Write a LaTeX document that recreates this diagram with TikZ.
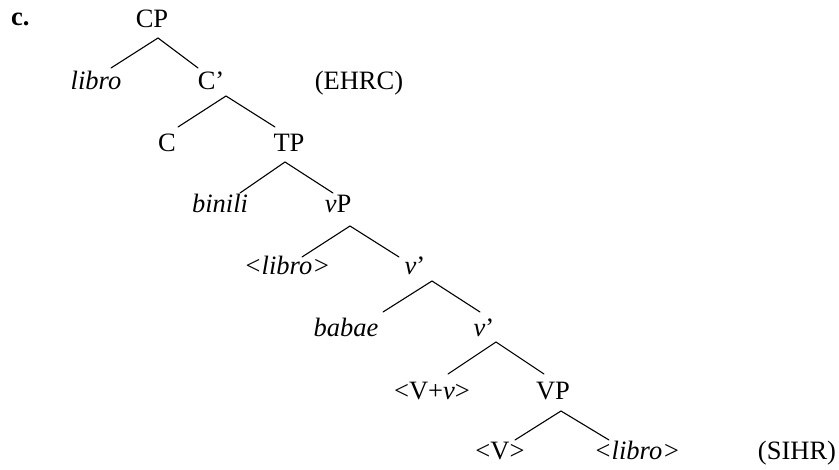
\documentclass[tikz,border=0pt]{standalone}
\usepackage{fontspec}
\setmainfont{Liberation Serif}
\begin{document}
\begin{tikzpicture}[x=1pt,y=-1pt,
  lab/.style={anchor=base,inner sep=0pt,font=\fontsize{26.5}{30}\selectfont},
  branch/.style={line width=1.1pt,line cap=round}]
\useasboundingbox (0,0) rectangle (839,470);
% labels
\node[lab,anchor=base west,font=\fontsize{26.5}{30}\selectfont\bfseries] (ex) at (11,26) {c.};
\node[lab] (CP) at (152,28) {CP};
\node[lab] (libro) at (96,90) {\textit{libro}};
\node[lab] (Cbar) at (211,90) {C’};
\node[lab] (ehrc) at (359,90) {(EHRC)};
\node[lab] (C) at (167,152) {C};
\node[lab] (TP) at (289,152) {TP};
\node[lab] (binili) at (220,213) {\textit{binili}};
\node[lab] (vP) at (338,213) {\textit{v}P};
\node[lab] (tlibro) at (287,275) {\textit{<libro>}};
\node[lab] (vbar1) at (415,275) {\textit{v}’};
\node[lab] (babae) at (346,337) {\textit{babae}};
\node[lab] (vbar2) at (484,337) {\textit{v}’};
\node[lab] (Vv) at (432,400) {<V+\textit{v}>};
\node[lab] (VP) at (553,400) {VP};
\node[lab] (tV) at (500,460) {<V>};
\node[lab] (tlibro2) at (637,460) {\textit{<libro>}};
\node[lab] (sihr) at (797,460) {(SIHR)};
% branch points
\coordinate (CPa) at (158,38);   \coordinate (CPl) at (111,68);  \coordinate (CPr) at (198,68);
\coordinate (Cba) at (226,96);   \coordinate (Cbl) at (178,127); \coordinate (Cbr) at (275,127);
\coordinate (TPa) at (285,162);  \coordinate (TPl) at (240,193); \coordinate (TPr) at (333,193);
\coordinate (vPa) at (350,226);  \coordinate (vPl) at (302,257); \coordinate (vPr) at (399,257);
\coordinate (v1a) at (432,281);  \coordinate (v1l) at (383,312); \coordinate (v1r) at (480,312);
\coordinate (v2a) at (496,342);  \coordinate (v2l) at (448,374); \coordinate (v2r) at (544,374);
\coordinate (VPa) at (561,411);  \coordinate (VPl) at (515,440); \coordinate (VPr) at (609,440);
\foreach \p in {CP,Cb,TP,vP,v1,v2,VP}{
  \draw[branch] (\p l) -- (\p a) -- (\p r);
}
\end{tikzpicture}
\end{document}
